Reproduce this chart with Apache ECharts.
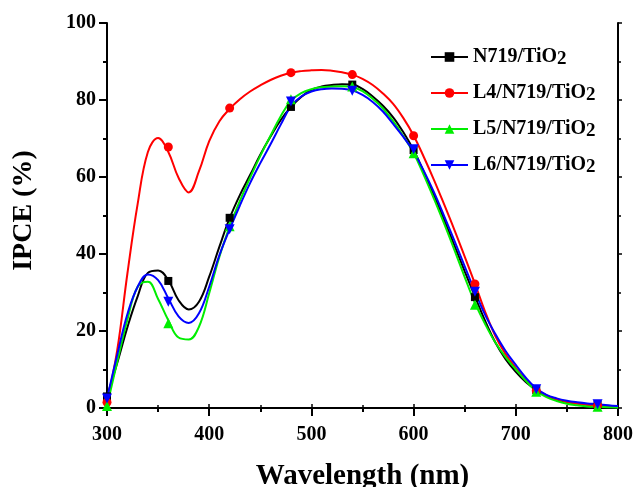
<!DOCTYPE html>
<html>
<head>
<meta charset="utf-8">
<script src="https://cdn.jsdelivr.net/npm/echarts@6/dist/echarts.min.js"></script>
<style>
  html, body { margin: 0; padding: 0; background: #fff; }
  #chart { width: 636px; height: 487px; }
</style>
</head>
<body>
<div id="chart"></div>
<script>
// Wavelengths (nm) sampled along each IPCE curve
const wavelength = [300,310,320,330,340,350,360,370,380,390,400,410,420,430,440,450,460,470,480,490,500,510,520,530,540,550,560,570,580,590,600,610,620,630,640,650,660,670,680,690,700,710,720,730,740,750,760,770,780,790,800];

// IPCE (%) curves
const curveN719 = [3,11.7,21,29,35.1,35.7,33.2,28,25.6,27.6,34.1,41.9,49.3,55.3,60.5,65.8,70.5,74.8,78.2,80.8,82.6,83.5,83.9,84.1,84,82.9,80.9,78.5,75.5,71.6,67,61.3,55.2,48.8,42.2,35.5,29,22.6,17,12.7,9.4,6.7,4.7,3.2,2.2,1.6,1.2,0.9,0.8,0.6,0.4];
const curveL4   = [1.5,15,35,53,66.5,70.1,66.5,59.8,56,61.5,69.3,74.5,77.7,80.2,82.2,83.8,85.2,86.3,87.1,87.5,87.7,87.8,87.6,87.2,86.6,85.5,83.9,81.7,79,75.3,70.8,65.2,59.2,52.8,46.2,39.3,32.3,25,18.7,14,10.4,7.3,4.9,3.3,2.3,1.6,1.1,0.8,0.6,0.4,0.3];
const curveL5   = [0.5,12,23,31.5,32.8,28.3,22.8,18.3,17.8,21.1,29.8,39.3,47.1,53.8,59.8,65.5,70.7,75.8,79.8,81.8,82.8,83.3,83.5,83.6,83.4,82.3,80.3,77.8,74.5,70.6,66.2,60.5,54.3,47.8,41,34,27.3,21.8,17,13.2,10,7,4.4,2.8,1.8,1.1,0.7,0.4,0.3,0.2,0.1];
const curveL6   = [2.5,13.8,24.4,31.5,34.7,33.2,28.5,23.8,22.1,24.6,31.5,39.7,46.4,52.6,58.4,63.6,68.5,73.6,78.4,80.9,82.2,82.8,83,82.9,82.5,81.3,79.5,77,73.8,70.4,66.6,61.6,56,49.8,43.4,36.8,30.3,24.2,19.2,14.8,11.2,7.8,5.1,3.4,2.5,1.9,1.5,1.2,1,0.7,0.5];

// Measured points (markers)
const markerWavelength = [300,360,420,480,540,600,660,720,780];
const markN719 = [3,33,49.4,78.2,84,67,28.8,4.7,0.8];
const markL4   = [1.5,67.8,77.9,87.1,86.6,70.7,32.2,4.5,0.6];
const markL5   = [0.5,22,47.2,80.2,83.5,66.2,26.8,4.2,0.3];
const markL6   = [2.5,27.6,46.4,79.6,82.4,67.2,30.2,4.9,1.0];

const seriesNames = ['N719/TiO2', 'L4/N719/TiO2', 'L5/N719/TiO2', 'L6/N719/TiO2'];

const FONT = '"Liberation Serif", "Times New Roman", serif';
const downTriangle = 'path://M0,0 L10,0 L5,9 Z';

const styles = [
  { color: '#000000', symbol: 'rect', size: 8 },
  { color: '#ff0000', symbol: 'circle', size: 9 },
  { color: '#00ee00', symbol: 'triangle', size: 10 },
  { color: '#0000ff', symbol: downTriangle, size: 10 }
];
const curves = [curveN719, curveL4, curveL5, curveL6];
const marks = [markN719, markL4, markL5, markL6];

const zip = (xs, ys) => xs.map((x, i) => [x, ys[i]]);

const series = [];
seriesNames.forEach((name, i) => {
  const st = styles[i];
  series.push({
    name: name,
    type: 'line',
    smooth: 0.4,
    showSymbol: false,
    symbol: st.symbol,
    symbolSize: st.size,
    data: zip(wavelength, curves[i]),
    lineStyle: { color: st.color, width: 2 },
    itemStyle: { color: st.color },
    z: 2 + i,
    silent: true,
    animation: false
  });
});
seriesNames.forEach((name, i) => {
  const st = styles[i];
  series.push({
    name: name,
    type: 'scatter',
    symbol: st.symbol,
    symbolSize: st.size,
    data: zip(markerWavelength, marks[i]),
    itemStyle: { color: st.color, opacity: 1 },
    z: 10 + i,
    silent: true,
    animation: false
  });
});

const axisLine = { show: true, lineStyle: { color: '#000', width: 2 } };

const chart = echarts.init(document.getElementById('chart'), null, { renderer: 'canvas' });
chart.setOption({
  backgroundColor: '#ffffff',
  animation: false,
  grid: { left: 107, right: 18, top: 23, bottom: 79, containLabel: false, outerBoundsMode: 'none' },
  legend: {
    orient: 'vertical',
    left: 425,
    top: 37,
    itemWidth: 37,
    itemHeight: 12,
    itemGap: 9,
    data: seriesNames,
    formatter: function (name) {
      return '{a|' + name.slice(0, -1) + '}{s|2}';
    },
    textStyle: {
      rich: {
        a: { fontFamily: FONT, fontWeight: 'bold', fontSize: 20, color: '#000', lineHeight: 24 },
        s: { fontFamily: FONT, fontWeight: 'bold', fontSize: 19, color: '#000', verticalAlign: 'bottom', lineHeight: 20, padding: [8, 0, 0, 0] }
      }
    }
  },
  xAxis: [{
    type: 'value',
    min: 300, max: 800, interval: 100,
    name: 'Wavelength (nm)',
    nameLocation: 'middle',
    nameGap: 54,
    nameTextStyle: { fontFamily: FONT, fontWeight: 'bold', fontSize: 29, color: '#000' },
    axisLine: axisLine,
    axisTick: { show: true, inside: false, length: 8, lineStyle: { color: '#000', width: 2 } },
    minorTick: { show: true, splitNumber: 2, length: 4, lineStyle: { color: '#000', width: 2 } },
    splitLine: { show: false },
    axisLabel: { margin: 17, fontFamily: FONT, fontWeight: 'bold', fontSize: 20, color: '#000' }
  }, {
    type: 'value', position: 'top',
    min: 300, max: 800, interval: 100,
    axisLine: axisLine,
    axisTick: { show: true, inside: false, length: 4, lineStyle: { color: '#000', width: 1.5 } },
    minorTick: { show: true, splitNumber: 2, length: 3, lineStyle: { color: '#000', width: 1.5 } },
    splitLine: { show: false },
    axisLabel: { show: false }
  }],
  yAxis: [{
    type: 'value',
    min: 0, max: 100, interval: 20,
    name: 'IPCE (%)',
    nameLocation: 'middle',
    nameGap: 69,
    nameTextStyle: { fontFamily: FONT, fontWeight: 'bold', fontSize: 28, color: '#000', padding: [0, 0, 0, 10] },
    axisLine: axisLine,
    axisTick: { show: true, inside: false, length: 8, lineStyle: { color: '#000', width: 2 } },
    minorTick: { show: true, splitNumber: 2, length: 4, lineStyle: { color: '#000', width: 2 } },
    splitLine: { show: false },
    axisLabel: { margin: 11, fontFamily: FONT, fontWeight: 'bold', fontSize: 20, color: '#000' }
  }, {
    type: 'value', position: 'right',
    min: 0, max: 100, interval: 20,
    axisLine: axisLine,
    axisTick: { show: true, inside: false, length: 4, lineStyle: { color: '#000', width: 1.5 } },
    minorTick: { show: true, splitNumber: 2, length: 3, lineStyle: { color: '#000', width: 1.5 } },
    splitLine: { show: false },
    axisLabel: { show: false }
  }],
  series: series
});
</script>
</body>
</html>
